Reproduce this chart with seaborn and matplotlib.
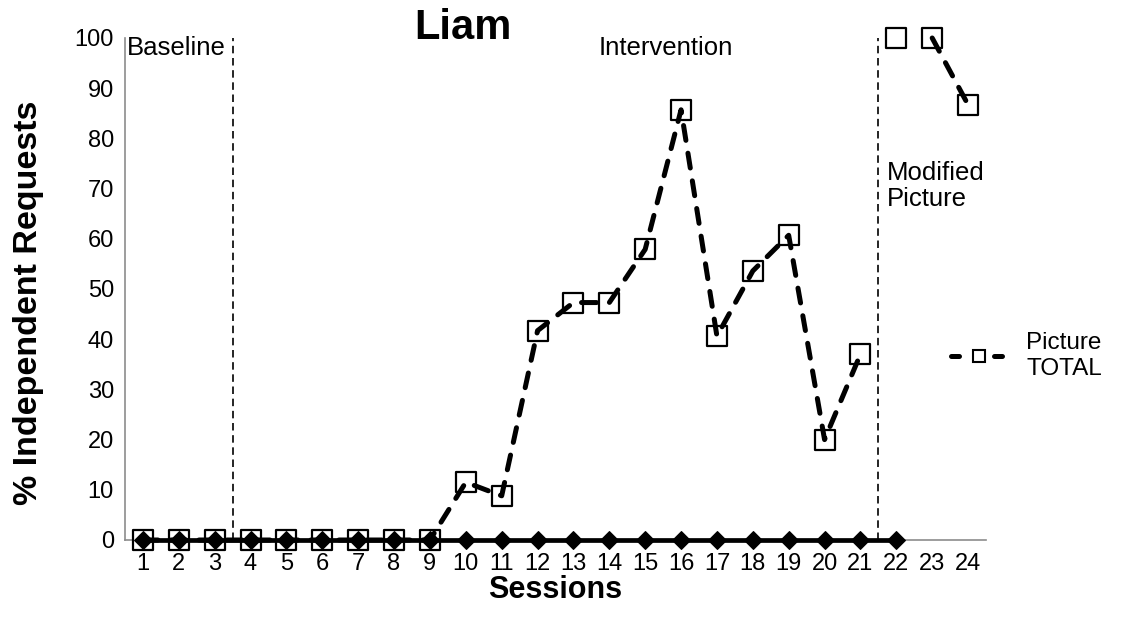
import matplotlib
matplotlib.use("Agg")
import matplotlib.pyplot as plt
from matplotlib.lines import Line2D
import seaborn as sns
import pandas as pd
import numpy as np

# ---- data ----
sessions = list(range(1, 25))
picture_total = [0, 0, 0, 0, 0, 0, 0, 0, 0, 11.5, 8.8, 41.7, 47.3, 47.3, 57.9, 85.7,
                 40.6, 53.6, 60.7, 20.0, 37.0, 100, 100, 86.7]
zero_series = [0] * 22          # sessions 1-22 (solid diamonds)
line_segments = [(1, 21), (22, 22), (23, 24)]   # connected runs of Picture TOTAL
phase_changes = [3.5, 21.5]
phase_labels = ["Baseline", "Intervention", "Modified\nPicture"]
title = "Liam"
xlabel = "Sessions"
ylabel = "% Independent Requests"
legend_label = "Picture\nTOTAL"

sns.set_theme(style="white")
plt.rcParams["font.family"] = ["Liberation Sans", "DejaVu Sans"]
plt.rcParams["text.color"] = "black"
plt.rcParams["axes.labelcolor"] = "black"

fig = plt.figure(figsize=(11.22, 6.3), dpi=100)
ax = fig.add_axes([125 / 1122, 1 - 540 / 630, (986 - 125) / 1122, (540 - 38) / 630])

df = pd.DataFrame({"session": sessions, "pct": picture_total})
dash = (0, (3.0, 2.6))

# squares (markers) first, dashed line drawn over them
sns.scatterplot(data=df, x="session", y="pct", marker="s", s=190, color="white",
                edgecolor="black", linewidth=1.6, ax=ax, zorder=3, clip_on=False)
for a, b in line_segments:
    seg = df[(df.session >= a) & (df.session <= b)]
    if len(seg) > 1:
        sns.lineplot(data=seg, x="session", y="pct", color="black", linewidth=3.6,
                     linestyle=dash, dash_capstyle="round", ax=ax, zorder=4,
                     clip_on=False, legend=False)

zdf = pd.DataFrame({"session": sessions[:len(zero_series)], "val": zero_series})
sns.lineplot(data=zdf, x="session", y="val", color="black", linewidth=3.4,
             marker="D", markersize=9.5, markeredgecolor="black", ax=ax, zorder=5,
             clip_on=False, legend=False)

for xc in phase_changes:
    ax.axvline(xc, color="black", linewidth=1.2, linestyle=(0, (4.5, 2.8)), zorder=2)

ax.set_xlim(0.5, 24.5)
ax.set_ylim(0, 100)
ax.set_xticks(sessions)
ax.set_xticklabels([str(s) for s in sessions])
ax.set_yticks(range(0, 101, 10))
ax.tick_params(axis="both", length=0, labelsize=17, colors="black", labelcolor="black")
ax.tick_params(axis="x", pad=9)
ax.tick_params(axis="y", pad=8)

for side in ["top", "right"]:
    ax.spines[side].set_visible(False)
for side in ["left", "bottom"]:
    ax.spines[side].set_color("#8c8c8c")
    ax.spines[side].set_linewidth(1.2)

ax.set_xlabel(xlabel, fontsize=22, fontweight="bold", labelpad=0)
ax.set_ylabel(ylabel, fontsize=24.5, fontweight="bold")
ax.yaxis.set_label_coords(-(125 - 44) / 861, (540 - 303) / 502)

fig.text(463 / 1122, 1 - 28 / 630, title, fontsize=30, fontweight="bold",
         ha="center", va="center")
fig.text(127 / 1122, 1 - 48 / 630, phase_labels[0], fontsize=18.5, ha="left", va="center")
fig.text(666 / 1122, 1 - 48 / 630, phase_labels[1], fontsize=18.5, ha="center", va="center")
fig.text(887 / 1122, 1 - 186 / 630, phase_labels[2], fontsize=18.5, ha="left", va="center",
         linespacing=1.15)

handle = Line2D([], [], color="black", linewidth=3.6, linestyle=(0, (1.6, 7.0)),
                dash_capstyle="round", marker="s", markersize=9,
                markerfacecolor="white", markeredgecolor="black", markeredgewidth=1.5)
fig.legend([handle], [legend_label], loc="center left",
           bbox_to_anchor=(946 / 1122, 1 - 356 / 630), frameon=False,
           fontsize=17.5, handlelength=2.3, handletextpad=0.8, borderaxespad=0,
           borderpad=0.2)

fig.savefig("out.png", dpi=100)
